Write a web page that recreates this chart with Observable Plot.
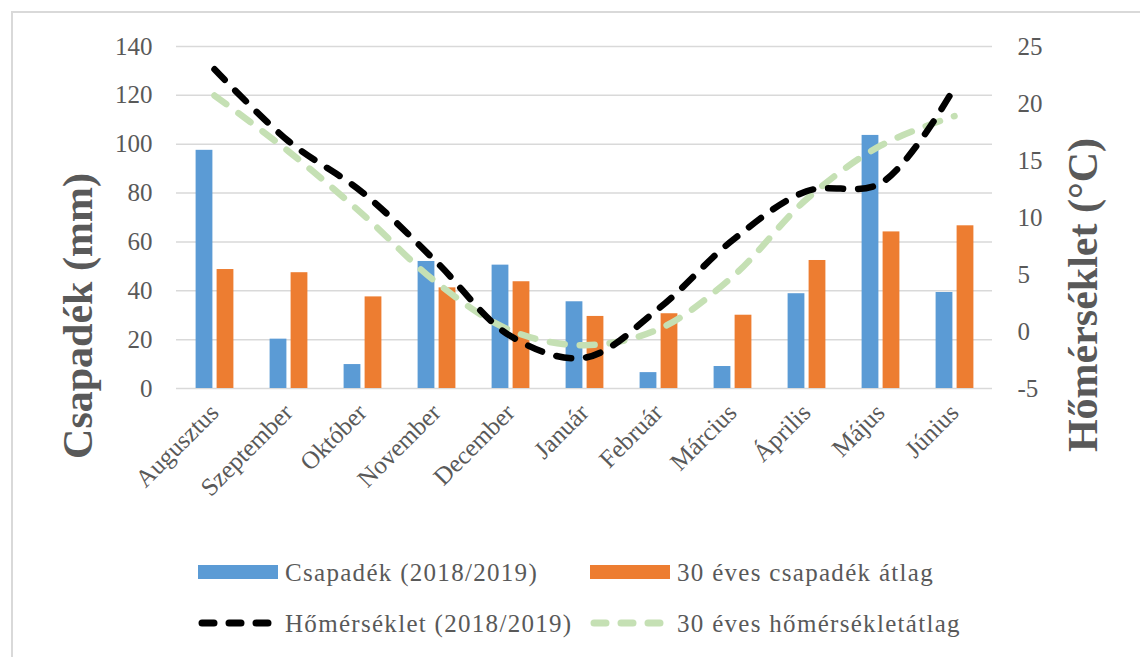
<!DOCTYPE html>
<html>
<head>
<meta charset="utf-8">
<script src="https://cdn.jsdelivr.net/npm/d3@7"></script>
<script src="https://cdn.jsdelivr.net/npm/@observablehq/plot@0.6"></script>
<style>
  html, body { margin: 0; padding: 0; background: #fff; }
  #wrap { position: relative; width: 1140px; height: 657px; overflow: hidden; font-family: "Liberation Serif", "Times New Roman", serif; color: #595959; }
  #frame { position: absolute; left: 11px; top: 11px; width: 1160px; height: 680px; border: 2px solid #d9d9d9; box-sizing: border-box; }
  #chart { position: absolute; left: 0; top: 0; }
  .ytitle { position: absolute; font-weight: bold; font-size: 42px; white-space: nowrap; transform: translate(-50%, -50%) rotate(-90deg); color: #595959; }
  .leg { position: absolute; font-size: 25px; letter-spacing: 1.3px; white-space: nowrap; line-height: 1; color: #595959; }
  .sw { position: absolute; }
</style>
</head>
<body>
<div id="wrap">
  <div id="frame"></div>
  <div id="chart"></div>
  <div class="ytitle" style="left:78px; top:316px;">Csapadék (mm)</div>
  <div class="ytitle" style="left:1083px; top:295px;">Hőmérséklet (°C)</div>
  <div id="legend"></div>
</div>
<script>
const months = ["Augusztus","Szeptember","Október","November","December","Január","Február","Március","Április","Május","Június"];
const precip = [97.5, 20.2, 9.8, 52.0, 50.5, 35.5, 6.5, 9.0, 38.8, 103.6, 39.3];
const precipAvg = [48.7, 47.4, 37.5, 41.2, 43.7, 29.5, 30.6, 30.0, 52.4, 64.1, 66.6];
const temp = [23.0, 16.7, 12.2, 6.1, -0.4, -2.3, 2.0, 8.0, 12.3, 13.0, 21.4];
const tempAvg = [20.7, 15.8, 10.3, 4.3, 0.1, -1.2, 0.2, 4.8, 11.6, 16.3, 18.9];
const precipTicks = [0, 20, 40, 60, 80, 100, 120, 140];
const tempTicks = [-5, 0, 5, 10, 15, 20, 25];
const legendItems = ["Csapadék (2018/2019)", "30 éves csapadék átlag", "Hőmérséklet (2018/2019)", "30 éves hőmérsékletátlag"];

const colors = {blue: "#5b9bd5", orange: "#ed7d31", black: "#000000", green: "#c5e0b4"};

// map temperature (-5..25) onto the precipitation axis (0..140)
const tMin = -5, tMax = 25, pMax = 140;
const toP = t => (t - tMin) * pMax / (tMax - tMin);
const fromP = p => p * (tMax - tMin) / pMax + tMin;

const rows = months.map((m, i) => ({month: m, precip: precip[i], precipAvg: precipAvg[i], temp: temp[i], tempAvg: tempAvg[i]}));

const chart = Plot.plot({
  width: 1140,
  height: 540,
  marginLeft: 176,
  marginRight: 148,
  marginTop: 46,
  marginBottom: 152,
  style: {fontFamily: "'Liberation Serif', 'Times New Roman', serif", fontSize: "25px", color: "#595959", background: "transparent"},
  x: {type: "band", domain: months, padding: 0, label: null},
  y: {domain: [0, 140], label: null},
  marks: [
    Plot.gridY(precipTicks, {stroke: "#d9d9d9", strokeOpacity: 1, strokeWidth: 1.5}),
    Plot.barY(rows, {x: "month", y: "precip", fill: colors.blue, insetLeft: 18.6, insetRight: 38.6}),
    Plot.barY(rows, {x: "month", y: "precipAvg", fill: colors.orange, insetLeft: 39.6, insetRight: 17.6}),
    Plot.line(rows, {x: "month", y: d => toP(d.tempAvg), stroke: colors.green, strokeWidth: 6.5, strokeDasharray: "15,15", strokeLinecap: "round", curve: "catmull-rom"}),
    Plot.line(rows, {x: "month", y: d => toP(d.temp), stroke: colors.black, strokeWidth: 6.5, strokeDasharray: "15,15", strokeLinecap: "round", curve: "catmull-rom"}),
    Plot.axisY(precipTicks, {anchor: "left", tickSize: 0, tickPadding: 24, label: null, fontSize: 25}),
    Plot.axisY(tempTicks.map(toP), {anchor: "right", tickSize: 0, tickPadding: 25, label: null, fontSize: 25, tickFormat: p => String(Math.round(fromP(p)))}),
    Plot.axisX({tickRotate: -45, tickSize: 0, tickPadding: 20, label: null, fontSize: 25})
  ]
});
document.getElementById("chart").appendChild(chart);

// legend
const leg = document.getElementById("legend");
const legendPos = [
  {x: 198, y: 572, text: legendItems[0], kind: "rect", color: colors.blue},
  {x: 590, y: 572, text: legendItems[1], kind: "rect", color: colors.orange},
  {x: 198, y: 623, text: legendItems[2], kind: "line", color: colors.black},
  {x: 590, y: 623, text: legendItems[3], kind: "line", color: colors.green}
];
legendPos.forEach(it => {
  let sw;
  if (it.kind === "rect") {
    sw = document.createElement("div");
    sw.className = "sw";
    sw.style.cssText = `left:${it.x}px; top:${it.y - 7}px; width:80px; height:14px; background:${it.color};`;
  } else {
    sw = document.createElementNS("http://www.w3.org/2000/svg", "svg");
    sw.setAttribute("class", "sw");
    sw.setAttribute("width", 84);
    sw.setAttribute("height", 12);
    sw.style.left = (it.x - 2) + "px";
    sw.style.top = (it.y - 6) + "px";
    const ln = document.createElementNS("http://www.w3.org/2000/svg", "line");
    ln.setAttribute("x1", 6); ln.setAttribute("x2", 78); ln.setAttribute("y1", 6); ln.setAttribute("y2", 6);
    ln.setAttribute("stroke", it.color); ln.setAttribute("stroke-width", 7);
    ln.setAttribute("stroke-dasharray", "12,15"); ln.setAttribute("stroke-linecap", "round");
    sw.appendChild(ln);
  }
  leg.appendChild(sw);
  const t = document.createElement("div");
  t.className = "leg";
  t.textContent = it.text;
  t.style.left = (it.x + 87) + "px";
  t.style.top = (it.y - 12) + "px";
  leg.appendChild(t);
});
</script>
</body>
</html>
